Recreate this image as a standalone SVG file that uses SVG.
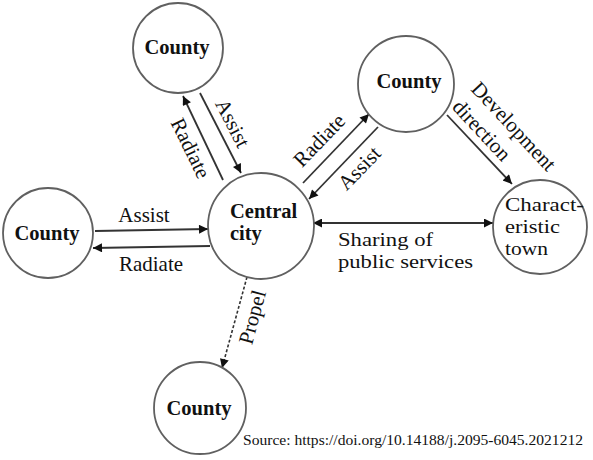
<svg xmlns="http://www.w3.org/2000/svg" width="593" height="460" viewBox="0 0 593 460">
<style>
.node circle{fill:#fff;stroke:#606060;stroke-width:1.8}
.nt{font-family:"Liberation Serif","Times New Roman",serif;font-size:20.5px;font-weight:bold;fill:#111}
.nr{font-family:"Liberation Serif","Times New Roman",serif;font-size:19.5px;fill:#111}
.lb{font-family:"Liberation Serif","Times New Roman",serif;font-size:21px;fill:#111}
.lb2{font-family:"Liberation Serif","Times New Roman",serif;font-size:19.5px;fill:#111}
.src{font-family:"Liberation Serif","Times New Roman",serif;font-size:14px;fill:#111}
.c{stroke:#333;stroke-width:1.8;fill:none;marker-end:url(#ah)}
.d{stroke-dasharray:3 2;stroke-width:1.6}
</style>
<defs>
<marker id="ah" viewBox="0 0 10 10" refX="10" refY="5" markerWidth="12" markerHeight="9" markerUnits="userSpaceOnUse" orient="auto-start-reverse">
<path d="M0,0 L10,5 L0,10 z" fill="#111"/>
</marker>
</defs>
<rect width="593" height="460" fill="#fff"/>
<g id="connectors">
<line class="c" x1="223" y1="180" x2="183" y2="96"/>
<line class="c" x1="200" y1="93" x2="241" y2="173"/>
<line class="c" x1="95" y1="231" x2="208" y2="229"/>
<line class="c" x1="210" y1="246" x2="93" y2="248"/>
<line class="c" x1="303" y1="183" x2="369" y2="114"/>
<line class="c" x1="378" y1="127" x2="309" y2="199"/>
<line class="c" x1="447" y1="115" x2="512" y2="184"/>
<line class="c" x1="313" y1="223" x2="493" y2="223" style="marker-start:url(#ah)"/>
<line class="c d" x1="247" y1="277" x2="222" y2="368"/>
<text class="lb" text-anchor="middle" dy="0.35em" transform="translate(233,123) rotate(63)">Assist</text>
<text class="lb" text-anchor="middle" dy="0.35em" transform="translate(191,148) rotate(64)">Radiate</text>
<text class="lb" text-anchor="middle" x="144" y="222">Assist</text>
<text class="lb" text-anchor="middle" x="151" y="271">Radiate</text>
<text class="lb" text-anchor="middle" dy="0.35em" transform="translate(319,140) rotate(-46)">Radiate</text>
<text class="lb" text-anchor="middle" dy="0.35em" transform="translate(359,168) rotate(-46)">Assist</text>
<text class="lb" text-anchor="middle" dy="0.35em" transform="translate(514,126) rotate(47)">Development</text>
<text class="lb" text-anchor="middle" dy="0.35em" transform="translate(482,130) rotate(47)">direction</text>
<text class="lb" text-anchor="middle" dy="0.35em" transform="translate(252,317) rotate(-75)">Propel</text>
<text class="lb2" x="338" y="246" textLength="95" lengthAdjust="spacingAndGlyphs">Sharing of</text>
<text class="lb2" x="338" y="268" textLength="135" lengthAdjust="spacingAndGlyphs">public services</text>
</g>
<g id="county-top" class="node"><circle cx="178" cy="48" r="45"/><text class="nt" x="177" y="54" text-anchor="middle">County</text></g>
<g id="county-left" class="node"><circle cx="48" cy="233" r="45"/><text class="nt" x="47" y="240" text-anchor="middle">County</text></g>
<g id="county-right" class="node"><circle cx="406" cy="84" r="48"/><text class="nt" x="409" y="88" text-anchor="middle">County</text></g>
<g id="county-bottom" class="node"><circle cx="200" cy="408" r="46"/><text class="nt" x="199" y="415" text-anchor="middle">County</text></g>
<g id="central-city" class="node"><circle cx="261" cy="226" r="53"/><text class="nt" x="230" y="218">Central</text><text class="nt" x="230" y="240">city</text></g>
<g id="characteristic-town" class="node"><circle cx="540" cy="227" r="47"/><text class="nr" x="505" y="211" textLength="79" lengthAdjust="spacingAndGlyphs">Charact-</text><text class="nr" x="505" y="233" textLength="55" lengthAdjust="spacingAndGlyphs">eristic</text><text class="nr" x="505" y="255" textLength="43" lengthAdjust="spacingAndGlyphs">town</text></g>
<text class="src" x="243" y="445" textLength="340" lengthAdjust="spacingAndGlyphs">Source: https://doi.org/10.14188/j.2095-6045.2021212</text>
</svg>
